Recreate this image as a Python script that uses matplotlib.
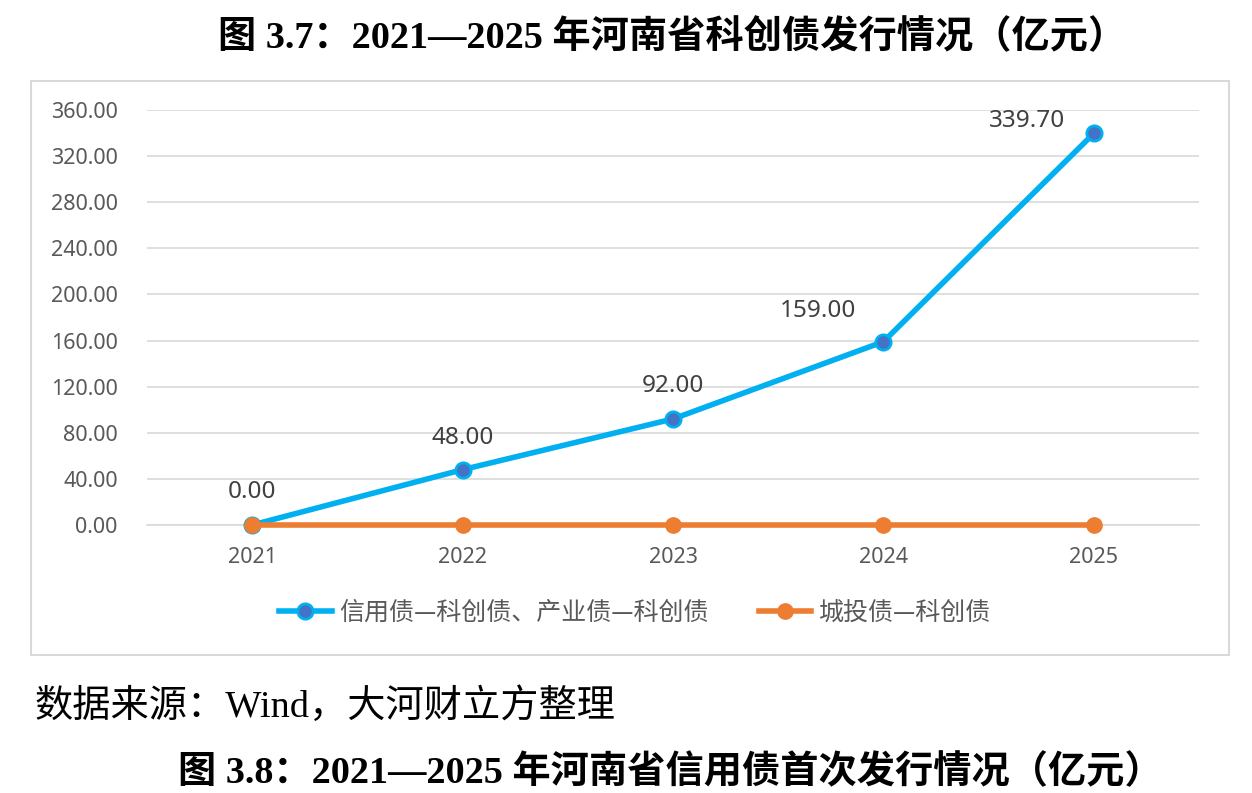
import matplotlib
matplotlib.use("Agg")
import matplotlib.pyplot as plt
from matplotlib.patches import Rectangle

# data
years = ["2021", "2022", "2023", "2024", "2025"]
credit_vals = [0.00, 48.00, 92.00, 159.00, 339.70]
chengtou_vals = [0.00, 0.00, 0.00, 0.00, 0.00]
credit_name = "信用债—科创债、产业债—科创债"
chengtou_name = "城投债—科创债"
title_top = "图 3.7：2021—2025 年河南省科创债发行情况（亿元）"
source_txt = "数据来源：Wind，大河财立方整理"
title_bottom = "图 3.8：2021—2025 年河南省信用债首次发行情况（亿元）"
y_ticks = [0, 40, 80, 120, 160, 200, 240, 280, 320, 360]

# label offsets (points) for the blue series, like the excel layout
lbl_off = [(0, 24), (0, 23), (0, 24), (-47, 22), (-48, 9)]

serif = ["Liberation Serif", "Noto Sans CJK SC"]
sans = ["Noto Sans", "Noto Sans CJK SC"]
cjk = ["Noto Sans CJK SC", "DejaVu Sans"]

fig = plt.figure(figsize=(12.52, 7.93), dpi=100)
W, H = 1252, 793

# outer chart frame
fig.patches.append(Rectangle((31 / W, 1 - 655 / H), (1229 - 31) / W, (655 - 81) / H,
                             transform=fig.transFigure, fill=False,
                             edgecolor="#D9D9D9", linewidth=1.5))

ax = fig.add_axes([147 / W, 1 - 525 / H, (1199 - 147) / W, (525 - 110) / H])
x = list(range(len(years)))

ax.plot(x, credit_vals, color="#00B0F0", lw=4, marker="o", ms=11,
        markerfacecolor="#4472C4", markeredgecolor="#00B0F0", mew=2,
        label=credit_name, zorder=3, clip_on=False)
ax.plot(x, chengtou_vals, color="#ED7D31", lw=4, marker="o", ms=11,
        markerfacecolor="#ED7D31", markeredgecolor="#ED7D31",
        label=chengtou_name, zorder=4, clip_on=False)

for i, v in enumerate(credit_vals):
    ax.annotate("%.2f" % v, (x[i], v), xytext=lbl_off[i], textcoords="offset points",
                ha="center", va="center", fontsize=17.5, color="#404040", family=sans)

ax.set_xlim(-0.5, len(years) - 0.5)
ax.set_ylim(0, 360)
ax.set_yticks(y_ticks)
ax.set_yticklabels(["%.2f" % t for t in y_ticks])
ax.set_xticks(x)
ax.set_xticklabels(years)
ax.grid(axis="y", color="#D9D9D9", lw=1.2)
ax.set_axisbelow(True)
for s in ["top", "right", "left"]:
    ax.spines[s].set_visible(False)
ax.spines["bottom"].set_color("#D9D9D9")
ax.spines["bottom"].set_linewidth(1.2)
ax.tick_params(length=0, colors="#595959", labelsize=15.5)
ax.tick_params(axis="y", pad=21)
ax.tick_params(axis="x", pad=16)
for t in ax.get_xticklabels() + ax.get_yticklabels():
    t.set_family(sans)

leg = fig.legend(loc="center", bbox_to_anchor=(635 / W, 1 - 613 / H), ncol=2,
                 frameon=False, prop={"family": cjk, "size": 18},
                 handlelength=2.1, handletextpad=0.3, columnspacing=2.0)
for t in leg.get_texts():
    t.set_color("#595959")

fig.text(672 / W, 1 - 38 / H, title_top, ha="center", va="center",
         fontsize=27.5, fontweight="bold", family=serif)
fig.text(35 / W, 1 - 707 / H, source_txt, ha="left", va="center",
         fontsize=27.5, family=serif)
fig.text(670 / W, 1 - 773 / H, title_bottom, ha="center", va="center",
         fontsize=27.5, fontweight="bold", family=serif)

fig.savefig("out.png", dpi=100)
